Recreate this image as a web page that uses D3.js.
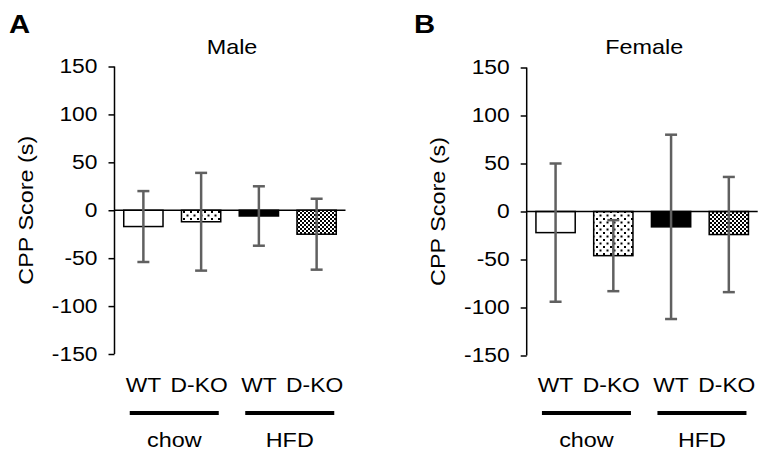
<!DOCTYPE html>
<html>
<head>
  <meta charset="utf-8">
  <script src="https://d3js.org/d3.v7.min.js"></script>
  <style>
    body { margin: 0; background: #fff; }
    text { font-family: "Liberation Sans", Arial, sans-serif; fill: #000; }
  </style>
</head>
<body>
  <svg id="chart"></svg>
  <script>
    // values (mean and error, seconds)
    var groups = ['chow', 'HFD'];
    var genotypes = ['WT', 'D-KO', 'WT', 'D-KO'];
    var maleMean = [-17, -12, -6, -25];
    var maleErr = [37, 51, 31, 37];
    var femaleMean = [-22, -46, -16, -24];
    var femaleErr = [72, 37, 96, 60];
    var yTicks = [150, 100, 50, 0, -50, -100, -150];

    var SX = 1.17; // text in the figure is a bit wider than Arial

    var svg = d3.select('#chart')
      .attr('width', 759)
      .attr('height', 457);

    var defs = svg.append('defs');

    var dots = defs.append('pattern')
      .attr('id', 'dots')
      .attr('width', 7).attr('height', 7)
      .attr('patternUnits', 'userSpaceOnUse');
    dots.append('rect').attr('width', 7).attr('height', 7).attr('fill', '#fff');
    dots.append('rect').attr('x', 1).attr('y', 1).attr('width', 2).attr('height', 2).attr('fill', '#000');
    dots.append('rect').attr('x', 4.5).attr('y', 4.5).attr('width', 2).attr('height', 2).attr('fill', '#000');

    var checks = defs.append('pattern')
      .attr('id', 'checks')
      .attr('width', 4).attr('height', 4)
      .attr('patternUnits', 'userSpaceOnUse');
    checks.append('rect').attr('width', 4).attr('height', 4).attr('fill', '#fff');
    checks.append('rect').attr('width', 2).attr('height', 2).attr('fill', '#000');
    checks.append('rect').attr('x', 2).attr('y', 2).attr('width', 2).attr('height', 2).attr('fill', '#000');

    var fills = ['#fff', 'url(#dots)', '#000', 'url(#checks)'];

    function label(g, x, y, str, size, anchor, extra) {
      return g.append('text')
        .attr('transform', 'translate(' + x + ',' + y + ')' + (extra || '') + ' scale(' + SX + ',1)')
        .attr('text-anchor', anchor || 'middle')
        .style('font-size', size + 'px')
        .text(str);
    }

    function panel(opts) {
      var g = svg.append('g');
      var keys = genotypes.map(function(d, i) { return i; });

      var x = d3.scaleBand()
        .domain(keys)
        .range([opts.left, opts.left + 231])
        .paddingInner(0.32)
        .paddingOuter(0.16);

      var y = d3.scaleLinear()
        .domain([-150, 150])
        .range([opts.bottom, opts.top]);

      // y axis
      var ax = g.append('g')
        .attr('transform', 'translate(' + opts.left + ',0)')
        .call(d3.axisLeft(y).tickValues(yTicks).tickSize(6).tickPadding(11).tickSizeOuter(0)
          .tickFormat(function(d) { return String(d); }));
      ax.selectAll('path, line').attr('stroke', '#000').attr('stroke-width', 1.5);
      ax.selectAll('text')
        .attr('font-family', null)
        .style('font-size', '19.5px')
        .attr('transform', function() {
          var tx = d3.select(this).attr('x');
          return 'translate(' + tx + ',0) scale(' + SX + ',1)';
        })
        .attr('x', 0);
      ax.select('.domain').attr('d', 'M0,' + opts.bottom + 'V' + opts.top);

      // bars
      g.selectAll('.bar')
        .data(opts.mean)
        .enter().append('rect')
        .attr('x', function(d, i) { return x(i); })
        .attr('y', function(d) { return y(Math.max(0, d)); })
        .attr('width', x.bandwidth())
        .attr('height', function(d) { return Math.abs(y(d) - y(0)); })
        .attr('fill', function(d, i) { return fills[i]; })
        .attr('stroke', '#000')
        .attr('stroke-width', 1.5);

      // zero line
      g.append('line')
        .attr('x1', opts.left).attr('x2', opts.left + 231)
        .attr('y1', y(0)).attr('y2', y(0))
        .attr('stroke', '#000').attr('stroke-width', 1.5);

      // error bars
      var eb = g.selectAll('.err')
        .data(opts.mean)
        .enter().append('g')
        .attr('stroke', '#606060')
        .attr('stroke-width', 2.5);
      eb.append('line')
        .attr('x1', function(d, i) { return x(i) + x.bandwidth() / 2; })
        .attr('x2', function(d, i) { return x(i) + x.bandwidth() / 2; })
        .attr('y1', function(d, i) { return y(d + opts.err[i]); })
        .attr('y2', function(d, i) { return y(d - opts.err[i]); });
      [1, -1].forEach(function(s) {
        eb.append('line')
          .attr('x1', function(d, i) { return x(i) + x.bandwidth() / 2 - 6; })
          .attr('x2', function(d, i) { return x(i) + x.bandwidth() / 2 + 6; })
          .attr('y1', function(d, i) { return y(d + s * opts.err[i]); })
          .attr('y2', function(d, i) { return y(d + s * opts.err[i]); });
      });

      // genotype labels
      genotypes.forEach(function(d, i) {
        label(g, x(i) + x.bandwidth() / 2 - (i % 2 ? 2 : 0), 392, d, 19.5);
      });

      // diet groups
      groups.forEach(function(name, k) {
        var x1 = x(2 * k) + 6;
        var x2 = x(2 * k + 1) + x.bandwidth() - 2;
        g.append('line')
          .attr('x1', x1).attr('x2', x2)
          .attr('y1', 413).attr('y2', 413)
          .attr('stroke', '#000').attr('stroke-width', 4);
        label(g, (x1 + x2) / 2, 447, name, 20);
      });

      // y label
      label(g, opts.left - 82, (opts.top + opts.bottom) / 2, 'CPP Score (s)', 20, 'middle', ' rotate(-90)');

      // title
      label(g, opts.left + 231 / 2 + 2, 54, opts.title, 20);

      // panel letter
      label(g, opts.letterX, 33, opts.letter, 25, 'start').style('font-weight', 'bold');
    }

    panel({ left: 114.5, top: 66.5, bottom: 354, mean: maleMean, err: maleErr, title: 'Male', letter: 'A', letterX: 9 });
    panel({ left: 526.7, top: 67.5, bottom: 355.5, mean: femaleMean, err: femaleErr, title: 'Female', letter: 'B', letterX: 414 });
  </script>
</body>
</html>
